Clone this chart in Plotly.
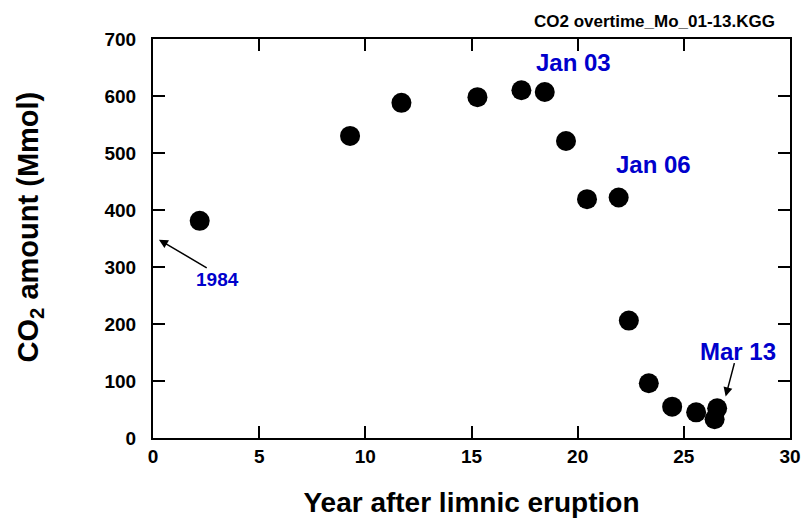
import plotly.graph_objects as go

years = [2.2, 9.28, 11.7, 15.28, 17.35, 18.45, 19.45, 20.44, 21.93, 22.41, 23.35, 24.45, 25.58, 26.57, 26.45]
co2 = [381, 530, 588, 598, 610, 607, 521, 419, 422, 206, 96, 55, 45, 52, 33]

x_ticks = [0, 5, 10, 15, 20, 25, 30]
y_ticks = [0, 100, 200, 300, 400, 500, 600, 700]

FONT = "Arial, Liberation Sans, sans-serif"
BLUE = "#0000CC"

fig = go.Figure()
fig.add_trace(go.Scatter(
    x=years, y=co2, mode="markers",
    marker=dict(color="black", size=20, symbol="circle"),
    showlegend=False, hoverinfo="x+y",
))

axis_common = dict(
    showline=True, linecolor="black", linewidth=2, mirror="ticks",
    ticks="inside", ticklen=12, tickwidth=2, tickcolor="black",
    showgrid=False, zeroline=False,
    tickfont=dict(family=FONT, size=19, color="black", weight="bold"),
)

fig.update_layout(
    width=801, height=532,
    margin=dict(l=153, r=11, t=39, b=94, autoexpand=False),
    paper_bgcolor="white", plot_bgcolor="white",
    xaxis=dict(range=[0, 30], tickvals=x_ticks, ticktext=[str(v) for v in x_ticks],
               ticklabelstandoff=0,
               title=dict(text="Year after limnic eruption", standoff=27,
                          font=dict(family=FONT, size=28, color="black", weight="bold")),
               **axis_common),
    yaxis=dict(range=[0, 700], tickvals=y_ticks, ticktext=[str(v) for v in y_ticks],
               ticklabelstandoff=11, **axis_common),
    annotations=[
        dict(text="CO<sub>2</sub> amount (Mmol)", xref="paper", yref="paper",
             x=-0.193, y=0.528, xanchor="center", yanchor="middle", textangle=-90,
             showarrow=False,
             font=dict(family=FONT, size=29, color="black", weight="bold")),
        dict(text="CO2 overtime_Mo_01-13.KGG", xref="paper", yref="paper", x=0.98, y=1.045,
             xanchor="right", yanchor="middle", showarrow=False,
             font=dict(family=FONT, size=17, color="black", weight="bold")),
        dict(text="Jan 03", x=19.8, y=658, showarrow=False,
             font=dict(family=FONT, size=24, color=BLUE, weight="bold")),
        dict(text="Jan 06", x=23.58, y=479, showarrow=False,
             font=dict(family=FONT, size=24, color=BLUE, weight="bold")),
        dict(text="Mar 13", x=27.53, y=152, showarrow=False,
             font=dict(family=FONT, size=24, color=BLUE, weight="bold")),
        dict(text="1984", x=3.03, y=278, showarrow=False,
             font=dict(family=FONT, size=19, color=BLUE, weight="bold")),
        dict(text="", x=0.28, y=348, ax=2.6, ay=297, axref="x", ayref="y",
             showarrow=True, arrowhead=2, arrowsize=1.2, arrowwidth=1.5, arrowcolor="black"),
        dict(text="", x=26.97, y=73, ax=27.4, ay=134, axref="x", ayref="y",
             showarrow=True, arrowhead=2, arrowsize=1.2, arrowwidth=1.5, arrowcolor="black"),
    ],
)

fig.write_html("out.html", config={"displayModeBar": False},
               post_script="document.body.style.margin='0';document.body.style.overflow='hidden';")
